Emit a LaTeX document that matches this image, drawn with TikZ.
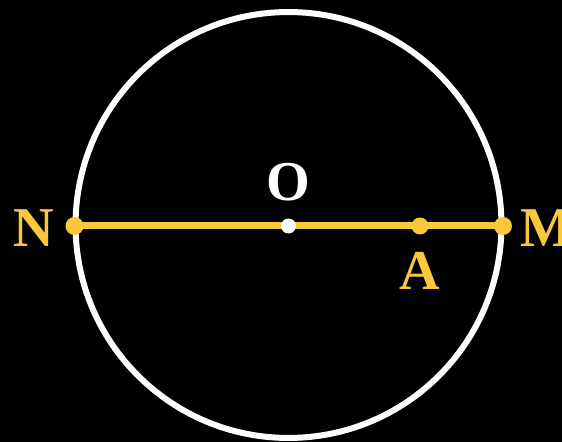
\documentclass[tikz,border=0pt]{standalone}
\usepackage{fontspec}
\setmainfont{Liberation Serif}
\usepackage{tikz}
\usetikzlibrary{positioning, backgrounds}

\definecolor{gold}{RGB}{250,200,60}

\begin{document}
\begin{tikzpicture}[x=0.02cm, y=-0.02cm, node distance=0.3cm,
    every node/.style={font=\fontsize{32}{36}\selectfont\bfseries},
    dot/.style={circle, fill=gold, inner sep=0pt, minimum size=0.36cm},
    lbl/.style={text=gold, inner sep=0pt}]
    \useasboundingbox (0,0) rectangle (562,442);
    % points on the diameter
    \node[dot] (N) at (74.5,226) {};
    \node[dot] (M) at (503,226) {};
    \node[dot, minimum size=0.34cm] (A) at (420,226) {};
    \node[circle, fill=white, inner sep=0pt, minimum size=0.3cm] (O) at (288.5,226) {};
    % labels
    \node[lbl, left=0.21cm of N, yshift=-0.05cm] (labN) {N};
    \node[lbl, right=0.16cm of M, yshift=-0.04cm] (labM) {M};
    \node[lbl, text=white, above=0.34cm of O] (labO) {O};
    \node[lbl, below=0.35cm of A] (labA) {A};
    \begin{pgfonlayer}{background}
        \fill[black] (0,0) rectangle (562,442);
        \draw[white, line width=0.12cm] (288.5,225) circle [radius=4.26cm];
        \draw[gold, line width=0.14cm] (N.center) -- (M.center);
    \end{pgfonlayer}
\end{tikzpicture}
\end{document}
